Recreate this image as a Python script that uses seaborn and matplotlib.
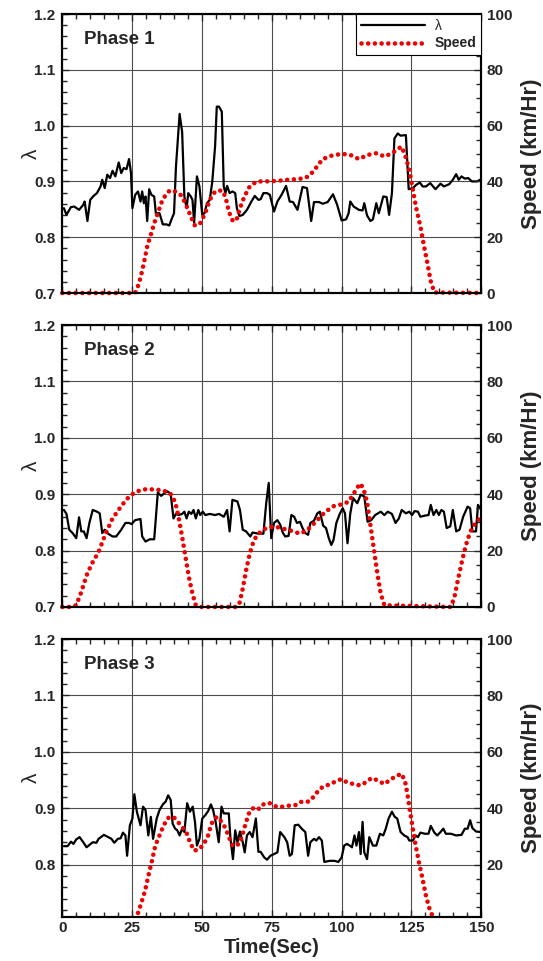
import matplotlib
matplotlib.use('Agg')
import matplotlib.pyplot as plt
from matplotlib.ticker import MultipleLocator
import seaborn as sns

# ---- Phase 1 ----
p1_time = [0.6, 1.5, 3.1, 4.3, 6, 7.5, 8, 9, 10, 11.2, 12.4, 13.7, 14.3, 15.2, 16.1, 17.1, 18, 19,
           20.2, 21.1, 22, 23, 23.9, 24.6, 25.1, 26.1, 27.1, 28, 28.6, 29.2, 29.8, 30.4, 31.1, 31.9,
           32.9, 33.5, 34.8, 36, 37.3, 38.3, 39.1, 40, 40.7, 42, 42.9, 43.7, 44.5, 45.1, 46, 46.6,
           47.2, 48.2, 49.1, 50.1, 50.9, 51.8, 52.8, 53.7, 54.7, 55.3, 56.1, 57.1, 57.8, 58.4, 59,
           59.9, 60.9, 61.9, 62.5, 63.4, 64.6, 66.1, 67.7, 68.9, 70.2, 71, 72, 73.3, 74.3, 75.8, 77,
           78.5, 80.1, 81.4, 82.6, 84.2, 86, 87.6, 89.1, 90.1, 91.9, 93.2, 95, 96.9, 98.4, 100, 101.6,
           102.5, 103.1, 104.3, 106.2, 107.5, 108.1, 109.1, 110.3, 111.2, 112.4, 113.3, 114.9, 116.1,
           117, 118, 118.9, 120.1, 121.1, 123, 124, 125.5, 126.7, 128, 129, 130.2, 131.7, 133.6,
           135.4, 136.6, 138.5, 139.8, 141, 141.9, 142.9, 144.1, 145.3, 146.6, 148.4, 150]
p1_lambda = [0.852, 0.840, 0.854, 0.855, 0.849, 0.858, 0.864, 0.829, 0.867, 0.874, 0.879, 0.891,
             0.903, 0.888, 0.912, 0.906, 0.919, 0.909, 0.934, 0.915, 0.924, 0.922, 0.940, 0.915,
             0.852, 0.876, 0.882, 0.864, 0.882, 0.861, 0.873, 0.829, 0.886, 0.876, 0.873, 0.843,
             0.843, 0.823, 0.823, 0.821, 0.832, 0.843, 0.927, 1.021, 0.989, 0.873, 0.852, 0.879,
             0.873, 0.867, 0.826, 0.909, 0.891, 0.840, 0.843, 0.861, 0.867, 0.900, 0.963, 1.034,
             1.034, 1.025, 0.891, 0.879, 0.892, 0.879, 0.882, 0.879, 0.852, 0.838, 0.840, 0.849,
             0.864, 0.874, 0.867, 0.868, 0.879, 0.879, 0.876, 0.846, 0.864, 0.876, 0.892, 0.864,
             0.863, 0.849, 0.890, 0.888, 0.829, 0.863, 0.863, 0.860, 0.863, 0.877, 0.858, 0.830,
             0.832, 0.843, 0.864, 0.855, 0.849, 0.848, 0.861, 0.839, 0.829, 0.832, 0.861, 0.843,
             0.873, 0.872, 0.840, 0.879, 0.977, 0.986, 0.982, 0.983, 0.886, 0.888, 0.894, 0.898,
             0.891, 0.891, 0.897, 0.886, 0.896, 0.891, 0.895, 0.903, 0.913, 0.903, 0.909, 0.905,
             0.906, 0.900, 0.900, 0.904]
p1_speed_time = [0, 26, 26.7, 28, 29.2, 30.4, 31.7, 32.9, 34.2, 35.4, 37, 38.5, 40.4, 42.2, 44.1, 46,
                 47.5, 49.4, 51.2, 52.8, 54.7, 57.1, 58.4, 59.6, 61.1, 62.4, 63.6, 65.2, 67.1, 69.6,
                 72.7, 77, 80.7, 83.9, 87, 88.8, 90.7, 93.2, 96.3, 100, 103.1, 106.2, 109.3, 112.4,
                 115.5, 118.6, 121.4, 122.7, 124.2, 125.5, 126.7, 128.2, 129.4, 130.7, 131.9, 133.2, 150]
p1_speed = [0, 0, 1.2, 5.4, 10.7, 16.7, 20.9, 25, 28.6, 32.2, 35.2, 36.8, 36.4, 35.4, 32.2, 27.4,
            24.1, 25.1, 28.6, 33.4, 36.4, 36.8, 34.6, 29.2, 25.7, 26.3, 30.4, 34.6, 38.2, 40, 40,
            40.2, 40.6, 40.8, 41.2, 42.4, 44.7, 48, 49.2, 49.9, 49.5, 48, 49.5, 50.1, 48.9, 50.5,
            52.5, 49.5, 44.2, 37, 30.4, 23.9, 17.3, 10.7, 4.2, 0.2, 0]

# ---- Phase 2 ----
p2_time = [0.6, 1.5, 2.5, 3.7, 5, 6, 6.8, 7.7, 8.7, 9.7, 10.9, 12.4, 13.4, 14.3, 15.2, 16.4, 18, 19.3,
           21.1, 22.6, 23.9, 24.8, 26.1, 28, 28.6, 29.8, 31.3, 32.9, 34.2, 35.4, 36.6, 37.6, 38.8,
           39.8, 40.7, 41.6, 42.9, 43.7, 44.5, 45.3, 46.2, 47, 47.8, 48.7, 49.4, 50.3, 51.2, 52.8,
           54.7, 56.1, 57.8, 59, 59.9, 60.9, 62.7, 63.6, 64.6, 65.8, 67.3, 68.1, 70.2, 72, 73, 73.9,
           74.8, 75.8, 77, 78, 78.9, 79.8, 81, 82, 83, 84, 85.1, 86, 87, 88, 88.8, 90.1, 91.3, 92.2,
           93.4, 94.4, 95.4, 96.3, 97.1, 98.1, 99.4, 100.4, 101.2, 102.1, 103.1, 104.1, 105.6,
           106.8, 108.1, 109.3, 110.6, 112, 114, 115.3, 116.5, 118, 119.3, 120.5, 121.5, 123,
           124.2, 125.2, 126.1, 127.3, 128.2, 129.8, 131.1, 131.9, 132.9, 133.9, 134.8, 135.7,
           136.6, 137.6, 138.9, 139.8, 141, 142.2, 143.5, 145.1, 146, 146.8, 148.1, 148.8, 150]
p2_lambda = [0.872, 0.865, 0.837, 0.831, 0.822, 0.859, 0.834, 0.834, 0.822, 0.849, 0.872, 0.869,
             0.866, 0.831, 0.837, 0.830, 0.825, 0.825, 0.837, 0.849, 0.849, 0.847, 0.854, 0.856,
             0.825, 0.816, 0.820, 0.820, 0.903, 0.897, 0.902, 0.905, 0.901, 0.857, 0.865, 0.863,
             0.865, 0.869, 0.857, 0.869, 0.865, 0.872, 0.857, 0.872, 0.863, 0.869, 0.863, 0.865,
             0.863, 0.865, 0.860, 0.872, 0.834, 0.890, 0.887, 0.872, 0.837, 0.834, 0.825, 0.832,
             0.830, 0.830, 0.884, 0.920, 0.822, 0.849, 0.854, 0.846, 0.832, 0.825, 0.826, 0.863,
             0.860, 0.849, 0.851, 0.840, 0.831, 0.828, 0.849, 0.853, 0.866, 0.869, 0.844, 0.840,
             0.822, 0.810, 0.819, 0.849, 0.866, 0.875, 0.866, 0.813, 0.866, 0.893, 0.884, 0.899,
             0.896, 0.851, 0.854, 0.863, 0.869, 0.863, 0.869, 0.865, 0.849, 0.857, 0.872, 0.866,
             0.869, 0.863, 0.870, 0.869, 0.860, 0.862, 0.863, 0.881, 0.863, 0.872, 0.863, 0.872,
             0.869, 0.840, 0.843, 0.872, 0.834, 0.837, 0.860, 0.878, 0.875, 0.834, 0.834, 0.881, 0.872]
p2_speed_time = [0, 3.1, 5, 6.8, 8.7, 10.6, 13, 15.5, 18, 20.5, 23, 26.1, 29.2, 32.9, 36, 38.5, 40.4,
                 41.6, 42.9, 44.1, 45.3, 46.6, 47.8, 49.7, 62.1, 63.4, 64.6, 65.8, 67.1, 68.6, 70.2,
                 72.7, 75.8, 78.9, 82, 85.1, 87.6, 90.7, 93.8, 96.9, 100, 102.5, 104.3, 106.6, 107.8,
                 109.1, 110.3, 111.6, 112.8, 114, 115.3, 139.1, 140.4, 141.6, 142.9, 144.3, 146,
                 147.8, 150]
p2_speed = [0, 0, 0.6, 5.3, 11.2, 15.4, 19.5, 26, 31.4, 34.9, 38.2, 40.8, 41.7, 41.7, 41.3, 40.5,
            37.3, 32, 24.9, 17.8, 10.7, 4.7, 0.6, 0, 0, 1.2, 6.5, 13, 18.9, 23.7, 26, 27.8, 28.6,
            27.8, 27, 26, 27.2, 30.2, 33.4, 35.7, 36.4, 37.3, 40.2, 43.8, 42, 37.3, 29, 20.1, 11.8,
            4.7, 0.6, 0, 3.6, 9.5, 15.4, 21.3, 26.6, 29.6, 32]

# ---- Phase 3 ----
p3_time = [0.6, 1.9, 3.1, 4, 5, 6.2, 7.5, 8.7, 9.7, 10.9, 12.2, 13, 14.9, 16.4, 17.6, 18.6, 19.9,
           20.9, 21.7, 22.6, 23.2, 24.2, 25.1, 25.8, 26.7, 28, 28.9, 29.8, 30.8, 31.7, 32.5, 33.8,
           34.8, 36, 37, 37.9, 38.8, 39.5, 40.4, 41.2, 42, 42.9, 43.7, 44.7, 45.7, 46.7, 47.5, 48.2,
           49.1, 50.1, 51.2, 52.2, 53.2, 54, 54.9, 56, 57, 57.8, 58.6, 59.6, 60.2, 61.1, 61.9, 62.7,
           63.6, 64.6, 65.3, 66.1, 67.1, 68.1, 69.3, 70.2, 71, 72.3, 73.3, 74.5, 75.8, 77, 78, 79.5,
           80.5, 81.4, 82.2, 83.2, 84.5, 85.7, 87, 88, 88.8, 90.1, 90.9, 91.9, 92.9, 93.8, 95.7,
           97.5, 98.8, 100, 100.9, 101.9, 102.9, 103.7, 104.6, 105.3, 106.2, 106.8, 107.5, 108.1,
           109.1, 109.9, 111.2, 112.4, 113.7, 114.9, 115.8, 116.8, 118, 119, 119.9, 121.1, 122.4,
           123.6, 124.2, 125.5, 126.5, 127.3, 128.2, 129.8, 131.1, 131.9, 133.2, 134.2, 135.4,
           136.4, 137.3, 139.1, 141, 142.9, 144.1, 145.1, 146, 146.8, 148.1, 150]
p3_lambda = [0.833, 0.833, 0.841, 0.837, 0.845, 0.849, 0.840, 0.831, 0.835, 0.840, 0.839, 0.846,
             0.853, 0.849, 0.846, 0.839, 0.846, 0.847, 0.857, 0.852, 0.816, 0.870, 0.882, 0.925,
             0.894, 0.870, 0.903, 0.897, 0.852, 0.885, 0.846, 0.882, 0.897, 0.907, 0.912, 0.923,
             0.915, 0.873, 0.864, 0.861, 0.852, 0.864, 0.858, 0.909, 0.894, 0.903, 0.876, 0.834,
             0.846, 0.882, 0.888, 0.895, 0.907, 0.897, 0.876, 0.840, 0.903, 0.891, 0.891, 0.891,
             0.846, 0.810, 0.861, 0.840, 0.859, 0.840, 0.822, 0.852, 0.858, 0.849, 0.882, 0.823,
             0.823, 0.813, 0.809, 0.816, 0.819, 0.822, 0.858, 0.849, 0.840, 0.816, 0.819, 0.870,
             0.871, 0.864, 0.858, 0.816, 0.840, 0.846, 0.843, 0.849, 0.843, 0.805, 0.807, 0.807,
             0.805, 0.813, 0.834, 0.837, 0.834, 0.831, 0.852, 0.834, 0.858, 0.819, 0.876, 0.822,
             0.810, 0.849, 0.834, 0.834, 0.855, 0.852, 0.864, 0.882, 0.894, 0.885, 0.882, 0.858,
             0.852, 0.849, 0.843, 0.843, 0.852, 0.849, 0.857, 0.855, 0.855, 0.869, 0.857, 0.852,
             0.858, 0.864, 0.855, 0.855, 0.852, 0.853, 0.864, 0.864, 0.879, 0.865, 0.859, 0.858]
p3_speed_time = [0, 25, 25.8, 27.1, 28.3, 29.6, 30.8, 32.1, 33.3, 34.8, 36.3, 37.9, 39.8, 41.2, 42.9,
                 44.5, 45.7, 47.2, 49.1, 50.7, 52.2, 53.4, 55.3, 57.1, 58.4, 59.9, 61.1, 63.4, 64.6,
                 65.8, 67.1, 68.9, 70.5, 72.3, 74.5, 76.8, 78.9, 81.4, 83.9, 85.7, 88.2, 90.1, 91.9,
                 93.8, 95.7, 97.9, 100, 101.9, 104.3, 106.8, 108.7, 110.8, 113.1, 115.3, 117.4,
                 119.5, 121.4, 122.7, 123.6, 124.5, 125.5, 126.5, 127.7, 129, 130.2, 131.7, 133,
                 134, 150]
p3_speed = [0, 0, 0.5, 2.9, 6.5, 10.7, 16, 21.4, 26.8, 30.4, 34, 36.6, 37, 35.4, 33.4, 31.3, 28, 25,
            25.6, 27.4, 30.4, 34.6, 37, 35.2, 33, 29.2, 26.6, 27.4, 31, 35.2, 39, 40.5, 39.8, 41.7,
            41.8, 40.5, 40.6, 41, 41.2, 42.4, 42.4, 44.2, 46.6, 48, 48.4, 49.6, 50.4, 49.2, 48.6,
            48.1, 49.3, 50.8, 49.8, 48.6, 50.2, 51.4, 52.3, 49.6, 44.8, 38.8, 32.8, 26.8, 20.8,
            14.9, 8.9, 3.5, 1.1, 0, 0]

phases = ['Phase 1', 'Phase 2', 'Phase 3']
time_ticks = [0, 25, 50, 75, 100, 125, 150]
lam_ticks = [0.7, 0.8, 0.9, 1.0, 1.1, 1.2]
speed_ticks = [0, 20, 40, 60, 80, 100]

sns.set_style('ticks')
plt.rcParams['font.family'] = ['Liberation Sans', 'DejaVu Sans']

RED = '#ee0000'
DOTS = (0, (0.01, 1.45))

fig = plt.figure(figsize=(5.43, 9.61), dpi=100)
# axes boxes in figure fractions (left, bottom, width, height)
rects = [[0.1147, 0.6951, 0.7717, 0.2903],
         [0.1147, 0.3684, 0.7717, 0.2934],
         [0.1147, 0.0458, 0.7717, 0.2892]]
panels = [(p1_time, p1_lambda, p1_speed_time, p1_speed),
          (p2_time, p2_lambda, p2_speed_time, p2_speed),
          (p3_time, p3_lambda, p3_speed_time, p3_speed)]

for i, (rect, (tl, lam, ts, spd)) in enumerate(zip(rects, panels)):
    last = i == 2
    ax = fig.add_axes(rect)
    ax2 = ax.twinx()

    sns.lineplot(x=tl, y=lam, ax=ax, color='black', lw=1.6, estimator=None, sort=False,
                 errorbar=None, legend=False)
    sns.lineplot(x=ts, y=spd, ax=ax2, color=RED, lw=3.3, linestyle=DOTS, estimator=None,
                 sort=False, errorbar=None, legend=False, clip_on=last)
    for ln in ax2.lines:
        ln.set_dash_capstyle('round')

    ax.set_xlim(0, 150)
    if last:
        ax.set_ylim(0.7075, 1.2)
        ax2.set_ylim(1.5, 100)
        lt, st = lam_ticks[1:], speed_ticks[1:]
    else:
        ax.set_ylim(0.7, 1.2)
        ax2.set_ylim(0, 100)
        lt, st = lam_ticks, speed_ticks

    ax.set_yticks(lt, labels=[f'{v:.1f}' for v in lt], fontweight='bold', fontsize=11)
    ax2.set_yticks(st, labels=[str(v) for v in st], fontweight='bold', fontsize=11)
    if last:
        ax.set_xticks(time_ticks, labels=[str(v) for v in time_ticks], fontweight='bold',
                      fontsize=11)
        ax.set_xlabel('Time(Sec)', fontsize=14.5, fontweight='bold', labelpad=2)
    else:
        ax.set_xticks(time_ticks, labels=[])
    ax.xaxis.set_minor_locator(MultipleLocator(5))
    ax.yaxis.set_minor_locator(MultipleLocator(0.02))
    ax2.yaxis.set_minor_locator(MultipleLocator(5))

    ax.tick_params(which='both', direction='in', top=True, right=False, width=1)
    ax.tick_params(axis='y', pad=5)
    ax.tick_params(axis='x', pad=3)
    ax.tick_params(which='major', length=5)
    ax.tick_params(which='minor', length=3.5)
    ax2.tick_params(which='both', direction='in', width=1, pad=4)
    ax2.tick_params(which='major', length=5)
    ax2.tick_params(which='minor', length=3.5)

    ax.grid(True, which='major', color='0.3', lw=0.8)
    for sp in list(ax.spines.values()) + list(ax2.spines.values()):
        sp.set_linewidth(1.5)
        sp.set_color('black')

    ax.set_ylabel('λ', fontsize=15, labelpad=-5)
    ax2.set_ylabel('Speed (km/Hr)', fontsize=16, fontweight='bold', labelpad=6)

    ax.text(0.053, 0.91, phases[i], transform=ax.transAxes, fontsize=13.5, fontweight='bold',
            ha='left', va='center')

    if i == 0:
        leg = ax2.legend([ax.lines[0], ax2.lines[0]], ['λ', 'Speed'], loc='upper right',
                         borderaxespad=0, fancybox=False, framealpha=1, edgecolor='black',
                         handlelength=4.6, handletextpad=0.7, fontsize=10, borderpad=0.35,
                         labelspacing=0.25)
        leg.get_frame().set_linewidth(0.8)
        leg.get_texts()[1].set_fontweight('bold')

fig.savefig('out.png', dpi=100)
